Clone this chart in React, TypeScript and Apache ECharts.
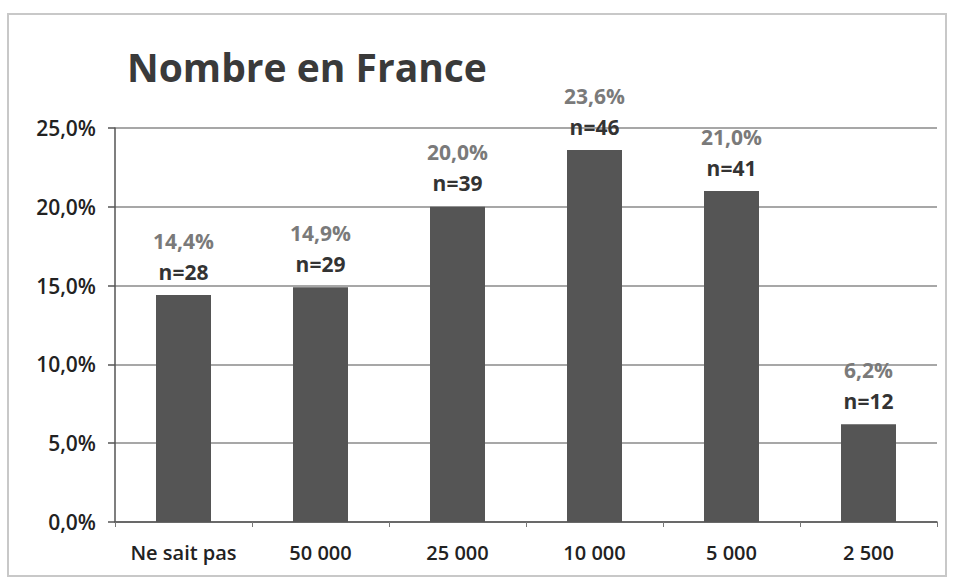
import React, { useEffect, useRef } from "react";
import * as echarts from "echarts";

const categories = ["Ne sait pas", "50 000", "25 000", "10 000", "5 000", "2 500"];
const percentValues = [14.4, 14.9, 20.0, 23.6, 21.0, 6.2];
const counts = [28, 29, 39, 46, 41, 12];
const yTicks = [0, 5, 10, 15, 20, 25];

const fmt = (v: number) => v.toFixed(1).replace(".", ",");

export default function App() {
  const ref = useRef<HTMLDivElement>(null);
  useEffect(() => {
    if (!ref.current) return;
    const chart = echarts.init(ref.current, null, { renderer: "svg" });
    const font = "'Open Sans', 'Noto Sans', sans-serif";
    chart.setOption({
      animation: false,
      backgroundColor: "#ffffff",
      title: {
        text: "Nombre en France",
        left: 122,
        top: 42,
        textStyle: { fontFamily: font, fontSize: 39, fontWeight: "bold", color: "#3a3a3a" },
      },
      graphic: [
        {
          type: "rect",
          shape: { x: 8, y: 14, width: 938, height: 562 },
          style: { fill: "none", stroke: "#c8c8c8", lineWidth: 2 },
          silent: true,
        },
      ],
      grid: { left: 115, right: 20, top: 128, bottom: 61 },
      xAxis: {
        type: "category",
        data: categories,
        axisLine: { show: true, lineStyle: { color: "#555", width: 1.5 } },
        axisTick: { show: true, length: 5, lineStyle: { color: "#777" } },
        axisLabel: {
          interval: 0,
          hideOverlap: false,
          fontFamily: font,
          fontSize: 20,
          fontWeight: 600,
          color: "#222",
          margin: 20,
        },
      },
      yAxis: {
        type: "value",
        min: yTicks[0],
        max: yTicks[yTicks.length - 1],
        interval: 5,
        axisLine: { show: true, lineStyle: { color: "#555", width: 1.5 } },
        axisTick: { show: true, length: 7, lineStyle: { color: "#555", width: 1.5 } },
        splitLine: { show: true, lineStyle: { color: "#8a8a8a", width: 1.5 } },
        axisLabel: {
          fontFamily: font,
          fontSize: 21,
          fontWeight: 600,
          color: "#222",
          margin: 19,
          formatter: (v: number) => fmt(v) + "%",
        },
      },
      series: [
        {
          type: "bar",
          data: percentValues.map((v, i) => ({ value: v, count: counts[i] })),
          barWidth: 55,
          itemStyle: { color: "#555555" },
          label: {
            show: true,
            position: "top",
            distance: 8,
            formatter: (p: any) => `{p|${fmt(percentValues[p.dataIndex])}%}\n{n|n=${counts[p.dataIndex]}}`,
            rich: {
              p: { fontFamily: font, fontSize: 21, fontWeight: "bold", color: "#7a7a7a", lineHeight: 31 },
              n: { fontFamily: font, fontSize: 21, fontWeight: "bold", color: "#333333", lineHeight: 31 },
            },
          },
        },
      ],
    });
    return () => chart.dispose();
  }, []);
  return (
    <div
      ref={ref}
      style={{ position: "fixed", left: 0, top: 0, width: 957, height: 583 }}
    />
  );
}
